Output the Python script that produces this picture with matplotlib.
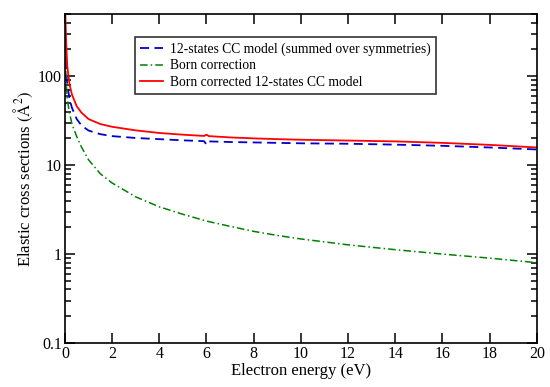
import matplotlib
matplotlib.use("Agg")
import matplotlib.pyplot as plt
from matplotlib.ticker import LogLocator, NullFormatter, FixedLocator, FixedFormatter

plt.rcParams['font.family'] = ['Liberation Serif', 'DejaVu Serif']
plt.rcParams['mathtext.fontset'] = 'stix'

# Energies (eV) for CC curves
energy_cc = [0.01, 0.05, 0.1, 0.2, 0.3, 0.5, 0.7, 1.0, 1.5, 2, 3, 4, 5, 5.9, 6.0, 6.1,
             7, 8, 9, 10, 12, 14, 16, 18, 20]
cc_12states = [220, 120, 80, 55, 44, 33, 28, 24.5, 22.3, 21.2, 20.2, 19.6, 19, 18.6, 17.0, 18.5,
               18.2, 18.0, 17.8, 17.6, 17.4, 17.0, 16.5, 15.8, 15.0]
born_corrected = [600, 250, 130, 80, 62, 46, 39, 33, 29, 27, 24.6, 23, 22, 21.3, 22.0, 21.2,
                  20.5, 20.0, 19.6, 19.3, 18.9, 18.5, 17.8, 16.9, 15.8]

energy_born = [0.02, 0.05, 0.1, 0.2, 0.3, 0.5, 0.7, 1.0, 1.5, 2, 3, 4, 5, 6, 7, 8, 9, 10,
               12, 14, 16, 18, 20]
born_correction = [170, 90, 55, 38, 29, 21, 16, 11.5, 8, 6.3, 4.4, 3.4, 2.8, 2.35, 2.05, 1.8,
                   1.62, 1.48, 1.27, 1.12, 1.0, 0.9, 0.8]

labels = ["12-states CC model (summed over symmetries)",
          "Born correction",
          "Born corrected 12-states CC model"]

xticks = [0, 2, 4, 6, 8, 10, 12, 14, 16, 18, 20]
yticks = [0.1, 1, 10, 100]
ytick_labels = ["0.1", "1", "10", "100"]

fig = plt.figure(figsize=(5.5, 3.87), dpi=100)
ax = fig.add_axes([0.118, 0.1137, 0.858, 0.850])

ax.plot(energy_cc, cc_12states, color='#0000cc', lw=1.3, ls=(0, (5, 3)), label=labels[0])
ax.plot(energy_born, born_correction, color='#008000', lw=1.1, ls=(0, (5, 2, 1, 2)), label=labels[1])
ax.plot(energy_cc, born_corrected, color='#ff0000', lw=1.3, ls='-', label=labels[2])

ax.set_yscale('log')
ax.set_xlim(0, 20)
ax.set_ylim(0.1, 500)
ax.xaxis.set_major_locator(FixedLocator(xticks))
ax.yaxis.set_major_locator(FixedLocator(yticks))
ax.yaxis.set_major_formatter(FixedFormatter(ytick_labels))
ax.yaxis.set_minor_locator(LogLocator(base=10, subs=range(2, 10)))
ax.yaxis.set_minor_formatter(NullFormatter())

ax.tick_params(which='both', direction='in', top=True, right=True, labelsize=11.5, width=1.1)
ax.tick_params(which='major', length=7, pad=2)
ax.tick_params(which='minor', length=4)
for s in ax.spines.values():
    s.set_linewidth(1.2)

ax.set_xlabel("Electron energy (eV)", fontsize=12, labelpad=1)
ax.set_ylabel("Elastic cross sections $\\left(\\mathrm{\\AA}^{2}\\right)$", fontsize=12, labelpad=2)

leg = ax.legend(loc='upper left', bbox_to_anchor=(0.148, 0.93), fontsize=9.8,
                frameon=True, fancybox=False, edgecolor='black', handlelength=1.7,
                handletextpad=0.5, borderpad=0.4, labelspacing=0.25, borderaxespad=0)
leg.get_frame().set_linewidth(1.2)

fig.savefig("out.png", dpi=100)
